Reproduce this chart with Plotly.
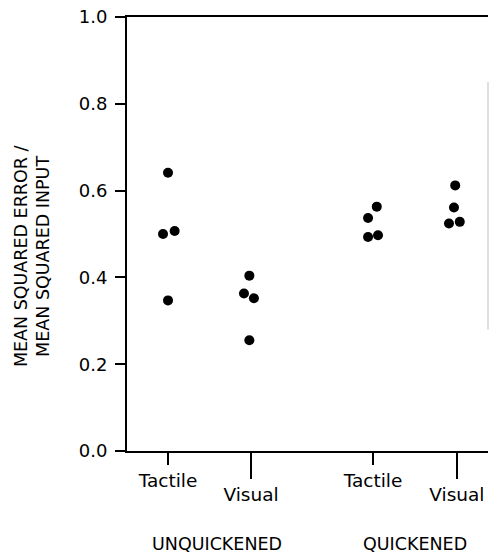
import plotly.graph_objects as go

# Condition labels
modalities = ["Tactile", "Visual", "Tactile", "Visual"]
groups = ["UNQUICKENED", "QUICKENED"]

# Normalised tracking error per subject, one list per condition
unquickened_tactile = [0.641, 0.500, 0.507, 0.347]
unquickened_visual = [0.404, 0.363, 0.352, 0.255]
quickened_tactile = [0.563, 0.537, 0.493, 0.497]
quickened_visual = [0.612, 0.561, 0.524, 0.528]

y_ticks = [0.0, 0.2, 0.4, 0.6, 0.8, 1.0]

# Layout: horizontal slot of each condition and small sideways spread of the dots
slots = [1.0, 2.0, 3.47, 4.48]
spread = [
    [0.0, -0.06, 0.08, 0.0],
    [-0.02, -0.085, 0.035, -0.02],
    [0.045, -0.06, -0.06, 0.06],
    [-0.02, -0.035, -0.095, 0.035],
]
group_centres = [1.59, 3.975]

series = [unquickened_tactile, unquickened_visual, quickened_tactile, quickened_visual]
X_RANGE = [0.506, 4.855]
FONT = "DejaVu Sans"
TICK_SIZE = 18
CAT_SIZE = 18.5
GROUP_SIZE = 17.5
TITLE_SIZE = 17.5

fig = go.Figure()
for slot, offs, vals in zip(slots, spread, series):
    fig.add_trace(go.Scatter(
        x=[slot + o for o in offs],
        y=vals,
        mode="markers",
        marker=dict(color="black", size=10, line=dict(width=0)),
        showlegend=False,
        hoverinfo="y",
    ))

# Tactile ticks are short, Visual ticks long: two overlaid bottom axes
tactile_idx = [i for i, m in enumerate(modalities) if m == "Tactile"]
visual_idx = [i for i, m in enumerate(modalities) if m == "Visual"]

fig.update_layout(
    width=489,
    height=557,
    margin=dict(l=127, r=1, t=17, b=106),
    paper_bgcolor="white",
    plot_bgcolor="white",
    font=dict(family=FONT, color="black"),
    xaxis=dict(
        range=X_RANGE,
        tickmode="array",
        tickvals=[slots[i] for i in tactile_idx],
        ticktext=[modalities[i] for i in tactile_idx],
        ticks="outside",
        ticklen=12,
        tickwidth=1.5,
        tickcolor="black",
        tickfont=dict(size=CAT_SIZE, family=FONT),
        showline=True,
        linecolor="black",
        linewidth=2,
        mirror=True,
        showgrid=False,
        zeroline=False,
    ),
    xaxis2=dict(
        range=X_RANGE,
        overlaying="x",
        anchor="y",
        side="bottom",
        tickmode="array",
        tickvals=[slots[i] for i in visual_idx],
        ticktext=[modalities[i] for i in visual_idx],
        ticks="outside",
        ticklen=27,
        tickwidth=1.5,
        tickcolor="black",
        tickfont=dict(size=CAT_SIZE, family=FONT),
        showline=False,
        showgrid=False,
        zeroline=False,
    ),
    yaxis=dict(
        range=[0, 1],
        tickmode="array",
        tickvals=y_ticks,
        tickformat=".1f",
        ticks="outside",
        ticklen=10,
        tickwidth=1.5,
        tickcolor="black",
        ticklabelstandoff=4,
        tickfont=dict(size=TICK_SIZE, family=FONT),
        showline=True,
        linecolor="black",
        linewidth=2,
        mirror=False,
        showgrid=False,
        zeroline=False,
    ),
)

# Empty trace so the second bottom axis is drawn
fig.add_trace(go.Scatter(x=[None], y=[None], xaxis="x2", yaxis="y",
                         showlegend=False, hoverinfo="skip"))

# Faint right-hand frame line
fig.add_shape(type="line", xref="paper", yref="paper", x0=1, x1=1, y0=0.28, y1=0.85,
              line=dict(color="#bdbdbd", width=1))

# Group labels under the modality labels
for name, cx in zip(groups, group_centres):
    fig.add_annotation(x=cx, xref="x", y=-0.215, yref="paper", yanchor="middle",
                       text=name, showarrow=False, font=dict(size=GROUP_SIZE, family=FONT))

# Two-line vertical axis title
fig.add_annotation(
    x=-0.262, xref="paper", y=0.45, yref="paper",
    text="MEAN SQUARED ERROR /<br>MEAN SQUARED INPUT",
    textangle=-90, showarrow=False, xanchor="center", yanchor="middle",
    font=dict(size=TITLE_SIZE, family=FONT),
)

fig.write_html("out.html")
